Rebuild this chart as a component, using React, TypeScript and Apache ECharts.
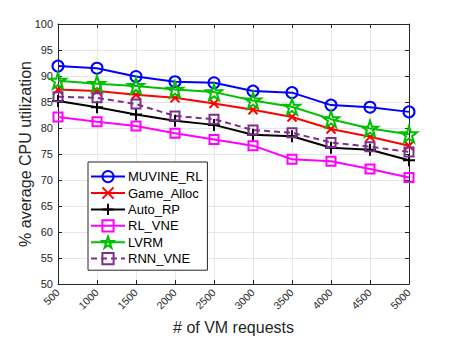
import React, { useEffect, useRef } from "react";
import * as echarts from "echarts";

const categories = ["500", "1000", "1500", "2000", "2500", "3000", "3500", "4000", "4500", "5000"];
const muvineRL = [91.9, 91.5, 89.9, 88.9, 88.7, 87.1, 86.8, 84.4, 84.0, 83.1];
const gameAlloc = [87.4, 87.1, 86.4, 85.8, 84.7, 83.5, 82.1, 79.8, 78.3, 76.6];
const autoRP = [85.2, 84.0, 82.6, 81.4, 80.6, 78.7, 78.4, 76.2, 75.8, 73.8];
const rlVNE = [82.1, 81.2, 80.4, 79.0, 77.8, 76.6, 74.0, 73.6, 72.1, 70.5];
const lvrm = [89.1, 88.5, 88.1, 87.4, 86.9, 85.3, 84.1, 81.7, 79.9, 78.8];
const rnnVNE = [86.0, 85.8, 84.6, 82.3, 81.7, 79.6, 79.1, 77.2, 76.4, 75.4];

const xTitle = "# of VM requests";
const yTitle = "% average CPU utilization";

const X_PATH = "path://M0,0L10,10M10,0L0,10";
const PLUS_PATH = "path://M5,0L5,10M0,5L10,5";
const STAR_PATH =
  "path://M10,0L12.25,6.91L19.51,6.91L13.63,11.18L15.88,18.09L10,13.82L4.12,18.09L6.37,11.18L0.49,6.91L7.75,6.91Z";

function mk(name: string, data: number[], color: string, symbol: string, size: number, dashed = false) {
  return {
    name,
    type: "line",
    data,
    symbol,
    symbolSize: size,
    showSymbol: true,
    lineStyle: { color, width: 2, type: dashed ? [6, 4] : "solid" },
    itemStyle: { color: "rgba(0,0,0,0)", borderColor: color, borderWidth: 2 },
    emphasis: { disabled: true },
    z: 3,
  };
}

export default function App() {
  const ref = useRef<HTMLDivElement>(null);
  useEffect(() => {
    const chart = echarts.init(ref.current!, undefined, { renderer: "svg" });
    const font = "Liberation Sans, Arial, Helvetica, sans-serif";
    chart.setOption({
      animation: false,
      backgroundColor: "#ffffff",
      textStyle: { fontFamily: font },
      grid: { left: 58, right: 43, top: 24, bottom: 55, show: false },
      graphic: [
        {
          type: "text",
          x: 25,
          y: 154,
          rotation: Math.PI / 2,
          style: {
            text: yTitle,
            fontSize: 16,
            fontFamily: font,
            fill: "#262626",
            align: "center",
            verticalAlign: "middle",
          },
        },
        {
          type: "text",
          x: 233.5,
          y: 327,
          style: {
            text: xTitle,
            fontSize: 16,
            fontFamily: font,
            fill: "#262626",
            align: "center",
            verticalAlign: "middle",
          },
        },
      ],
      legend: {
        orient: "vertical",
        left: 88,
        top: 162,
        itemWidth: 34,
        itemHeight: 14,
        itemGap: 3.2,
        padding: [8, 5, 5, 2],
        borderColor: "#262626",
        borderWidth: 1,
        backgroundColor: "#ffffff",
        textStyle: { fontSize: 13, color: "#000", fontFamily: font, padding: [0, 0, 0, -2] },
        data: ["MUVINE_RL", "Game_Alloc", "Auto_RP", "RL_VNE", "LVRM", "RNN_VNE"],
      },
      xAxis: [
        {
          type: "category",
          data: categories,
          boundaryGap: false,
          axisLine: { show: true, lineStyle: { color: "#262626", width: 1 } },
          axisTick: { show: true, inside: true, length: 4, lineStyle: { color: "#262626" } },
          axisLabel: { rotate: 45, fontSize: 10.5, color: "#262626", margin: 7 },
          splitLine: { show: true, lineStyle: { color: "#e6e6e6", width: 1 } },
        },
        {
          type: "category",
          data: categories,
          boundaryGap: false,
          position: "top",
          axisLine: { show: true, lineStyle: { color: "#262626", width: 1 } },
          axisTick: { show: true, inside: true, length: 4, lineStyle: { color: "#262626" } },
          axisLabel: { show: false },
          splitLine: { show: false },
        },
      ],
      yAxis: [
        {
          type: "value",
          min: 50,
          max: 100,
          interval: 5,
          axisLine: { show: true, lineStyle: { color: "#262626", width: 1 } },
          axisTick: { show: true, inside: true, length: 4, lineStyle: { color: "#262626" } },
          axisLabel: { fontSize: 11, color: "#262626", margin: 5 },
          splitLine: { show: true, lineStyle: { color: "#e6e6e6", width: 1 } },
        },
        {
          type: "value",
          min: 50,
          max: 100,
          interval: 5,
          position: "right",
          axisLine: { show: true, lineStyle: { color: "#262626", width: 1 } },
          axisTick: { show: true, inside: true, length: 4, lineStyle: { color: "#262626" } },
          axisLabel: { show: false },
          splitLine: { show: false },
        },
      ],
      series: [
        mk("MUVINE_RL", muvineRL, "#0000ff", "circle", 11),
        mk("Game_Alloc", gameAlloc, "#ff0000", X_PATH, 9),
        mk("Auto_RP", autoRP, "#000000", PLUS_PATH, 12),
        mk("RL_VNE", rlVNE, "#ff00ff", "rect", 9),
        mk("LVRM", lvrm, "#00c000", STAR_PATH, 16),
        mk("RNN_VNE", rnnVNE, "#7e2f8e", "rect", 9, true),
      ],
    });
    return () => chart.dispose();
  }, []);
  return (
    <div
      ref={ref}
      style={{ position: "absolute", left: 0, top: 0, width: 452, height: 339 }}
    />
  );
}
